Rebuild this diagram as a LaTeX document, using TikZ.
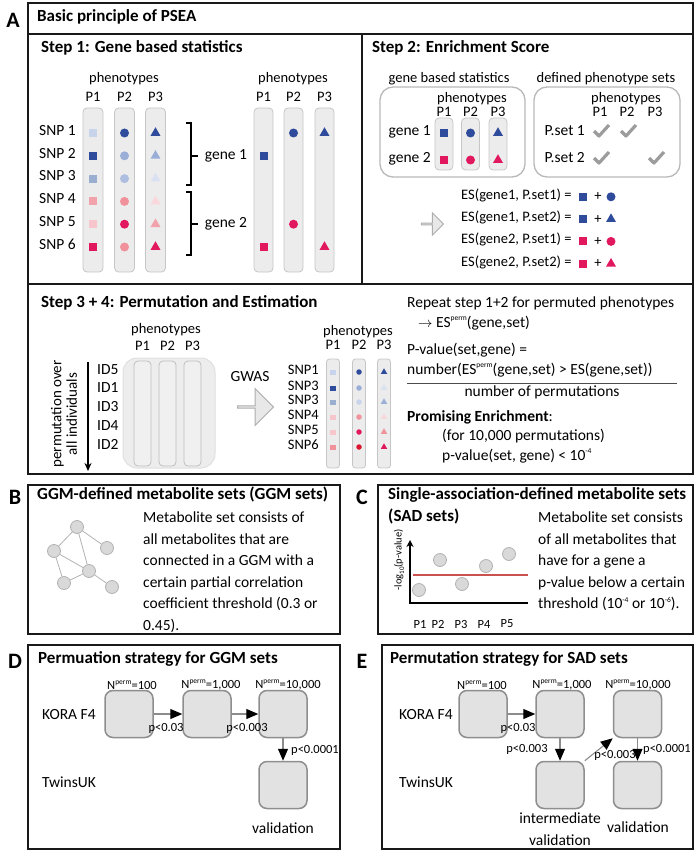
\documentclass[tikz,border=0pt]{standalone}
\usepackage{fontspec}
\setmainfont{Carlito}
\usetikzlibrary{arrows.meta,shapes.geometric,shapes.arrows}
\definecolor{pseaBlueD}{HTML}{2F4B9B}
\definecolor{pseaBlueM}{HTML}{9AAED8}
\definecolor{pseaBlueG}{HTML}{9AAFCF}
\definecolor{pseaBlueL}{HTML}{C8D4EC}
\definecolor{pseaPinkD}{HTML}{E2185F}
\definecolor{pseaPinkM}{HTML}{F0919B}
\definecolor{pseaPinkL}{HTML}{F7C6CC}
\definecolor{pseaRedD}{HTML}{D8162F}
\definecolor{pseaPill}{HTML}{ECECEC}
\definecolor{pseaPillLine}{HTML}{C6C6C6}
\definecolor{pseaStep}{HTML}{E2E2E2}
\definecolor{pseaStepLine}{HTML}{8E8E8E}
\definecolor{pseaCheck}{HTML}{9C9C9C}
\definecolor{pseaThresh}{HTML}{C9514E}
\newcommand\pseaSup[1]{\raisebox{0.42em}{\fontsize{7.5}{8}\selectfont #1}}
\tikzset{
  psea frame/.style={draw=black!90, line width=1.6pt},
  psea panel/.style={draw=black!90, line width=2pt},
  psea pill/.style={draw=pseaPillLine, fill=pseaPill, line width=0.8pt, rounded corners=4pt},
  psea group/.style={draw=black!28, line width=1.3pt, rounded corners=13pt},
  psea letter/.style={font=\fontsize{22}{24}\selectfont\bfseries, inner sep=0pt},
  psea head/.style={font=\fontsize{17}{21}\selectfont\bfseries, inner sep=0pt},
  psea text/.style={font=\fontsize{15.5}{21.5}\selectfont, inner sep=0pt},
  psea small/.style={font=\fontsize{14.5}{16}\selectfont, inner sep=0pt},
  psea tiny/.style={font=\fontsize{12.5}{14}\selectfont, inner sep=0pt},
  psea sq/.style={rectangle, minimum size=8pt, inner sep=0pt},
  psea dot/.style={circle, minimum size=9pt, inner sep=0pt},
  psea tri/.style={regular polygon, regular polygon sides=3, minimum size=11.5pt, inner sep=0pt},
  psea sq s/.style={rectangle, minimum width=6pt, minimum height=5pt, inner sep=0pt},
  psea dot s/.style={circle, minimum size=5.5pt, inner sep=0pt},
  psea tri s/.style={regular polygon, regular polygon sides=3, minimum size=7.5pt, inner sep=0pt},
  psea check/.style={draw=pseaCheck, line width=3.2pt, line join=round},
  psea fat arrow/.style={single arrow, draw=black!32, fill=black!9, line width=1pt, inner sep=0pt},
  psea ball/.style={circle, draw=black!30, fill=black!15, line width=0.8pt, minimum size=13pt, inner sep=0pt},
  psea stepbox/.style={draw=pseaStepLine, fill=pseaStep, line width=1.5pt, rounded corners=8pt, minimum width=48pt, minimum height=47pt, inner sep=0pt},
  psea go/.style={draw=black!45, line width=1.1pt, -{Triangle[length=12pt,width=10pt,color=black]}},
}

\begin{document}
\begin{tikzpicture}[x=1pt,y=-1pt]
  \useasboundingbox (0,0) rectangle (697,853);

  % panel A
  \node[psea letter] (labA) at (13,20) {A};
  \draw[psea frame] (28,3) rectangle (693,474);
  \draw[psea frame] (28,34) -- (693,34);
  \draw[psea frame] (362,34) -- (362,284);
  \draw[psea frame] (28,284) -- (693,284);
  \node[psea head, anchor=mid west] (titleA) at (37,19) {Basic principle of PSEA};

  % step 1
  \node[psea head, anchor=mid west] (step1) at (41,50) {Step 1: Gene based statistics};
  \node[psea small] (phL) at (124,79) {phenotypes};
  \node[psea small] (phR) at (293,79) {phenotypes};
  \foreach \x/\p in {93/1,124.5/2,155.5/3}{
    \node[psea small] (pl\p) at (\x,97) {P\p};
    \draw[psea pill] (\x-10,108) rectangle (\x+10,272);
  }
  \foreach \x/\p in {263.5/1,293.5/2,324.5/3}{
    \node[psea small] (pr\p) at (\x,97) {P\p};
    \draw[psea pill] (\x-9.5,108) rectangle (\x+9.5,272);
  }
  \foreach \r/\a/\b/\c in {1/pseaBlueL/pseaBlueD/pseaBlueD, 2/pseaBlueD/pseaBlueM/pseaBlueM,
      3/pseaBlueG/pseaBlueM!80/pseaBlueL!70, 4/pseaPinkM!85/pseaPinkM/pseaPinkL!70,
      5/pseaPinkL/pseaPinkD/pseaPinkM!85, 6/pseaPinkD/pseaPinkM/pseaPinkD}{
    \node[psea text, anchor=mid west] (snp\r) at (39,{110.2+22.8*\r}) {SNP \r};
    \node[psea sq, fill=\a] (qa\r) at (93,{110.2+22.8*\r}) {};
    \node[psea dot, fill=\b] (qb\r) at (124.5,{110.2+22.8*\r}) {};
    \node[psea tri, fill=\c] (qc\r) at (155.5,{110.2+22.8*\r}) {};
  }
  \draw[line width=1.1pt] (186,123) -- (191,123) -- (191,185) -- (186,185) (191,156) -- (198,156);
  \draw[line width=1.1pt] (186,192) -- (191,192) -- (191,255) -- (186,255) (191,224) -- (198,224);
  \node[psea text] (gene1) at (226,156) {gene 1};
  \node[psea text] (gene2) at (226,224) {gene 2};
  \node[psea dot, fill=pseaBlueD] (rb1) at (293.5,133) {};
  \node[psea tri, fill=pseaBlueD] (rc1) at (324.5,133) {};
  \node[psea sq, fill=pseaBlueD] (ra2) at (263.5,155.8) {};
  \node[psea dot, fill=pseaPinkD] (rb5) at (293.5,224.2) {};
  \node[psea sq, fill=pseaPinkD] (ra6) at (263.5,247) {};
  \node[psea tri, fill=pseaPinkD] (rc6) at (324.5,247) {};

  % step 2
  \node[psea head, anchor=mid west] (step2) at (372,50) {Step 2: Enrichment Score};
  \node[psea small] (gbs) at (449,79) {gene based statistics};
  \node[psea small] (dps) at (606,79) {defined phenotype sets};
  \draw[psea group] (380,87) rectangle (525,177);
  \draw[psea group] (534,87) rectangle (680,177);
  \node[psea small] (phG) at (472,99) {phenotypes};
  \node[psea small] (phS) at (626,99) {phenotypes};
  \foreach \x/\p in {444/1,470.5/2,498/3}{
    \node[psea small] (gp\p) at (\x,112) {P\p};
    \draw[psea pill] (\x-9,118) rectangle (\x+9,170);
  }
  \foreach \x/\p in {600/1,627/2,655/3}
    \node[psea small] (sp\p) at (\x,112) {P\p};
  \node[psea text, anchor=mid east] (g1lab) at (431,133) {gene 1};
  \node[psea text, anchor=mid east] (g2lab) at (431,160) {gene 2};
  \node[psea sq, fill=pseaBlueD] (ga1) at (444,133) {};
  \node[psea dot, fill=pseaBlueD] (gb1) at (470.5,133) {};
  \node[psea tri, fill=pseaBlueD] (gc1) at (498,133) {};
  \node[psea sq, fill=pseaPinkD] (ga2) at (444,160) {};
  \node[psea dot, fill=pseaPinkD] (gb2) at (470.5,160) {};
  \node[psea tri, fill=pseaPinkD] (gc2) at (498,160) {};
  \node[psea text, anchor=mid east] (ps1) at (585,133) {P.set 1};
  \node[psea text, anchor=mid east] (ps2) at (585,160) {P.set 2};
  \foreach \x/\y in {600/132,627/132,600/159,655/159}
    \draw[psea check] (\x,\y) ++(-6,-1) -- ++(5,5) -- ++(10,-11);
  \foreach \i/\txt/\sa/\sb in {1/{ES(gene1, P.set1) =}/pseaBlueD/dot, 2/{ES(gene1, P.set2) =}/pseaBlueD/tri,
      3/{ES(gene2, P.set1) =}/pseaPinkD/dot, 4/{ES(gene2, P.set2) =}/pseaPinkD/tri}{
    \node[psea small, anchor=mid west] (es\i) at (461,{174.5+22.3*\i}) {\txt};
    \node[psea sq, fill=\sa] (esa\i) at (583,{174.5+22.3*\i}) {};
    \node[psea small] (esp\i) at (598,{174.5+22.3*\i}) {+};
    \node[psea \sb, fill=\sa] (esb\i) at (611,{174.5+22.3*\i}) {};
  }
  \node[psea fat arrow, minimum height=22pt, minimum width=22pt, single arrow head extend=5.5pt] (esarrow) at (432,224) {};

  % step 3 + 4
  \node[psea head, anchor=mid west] (step3) at (41,305) {Step 3 + 4: Permutation and Estimation};
  \node[psea small] (phP) at (166,330) {phenotypes};
  \draw[draw=black!12, fill=black!7, line width=1pt, rounded corners=14pt] (123,358) rectangle (215,468);
  \foreach \x/\p in {142.5/1,167.5/2,192.5/3}{
    \node[psea small] (pp\p) at (\x,346) {P\p};
    \draw[draw=black!25, fill=black!6, line width=0.8pt, rounded corners=4pt] (\x-8.5,361) rectangle (\x+8.5,466);
  }
  \foreach \id/\y in {ID5/372,ID1/390,ID3/409,ID4/428,ID2/447}
    \node[psea text, anchor=mid west] (\id) at (97,\y) {\id};
  \coordinate (permtop) at (88,362);
  \coordinate (permbot) at (88,471);
  \draw[line width=1.6pt, -{Stealth[length=8pt,width=7pt]}] (permtop) -- (permbot);
  \node[psea text, font=\fontsize{15}{15.5}\selectfont, rotate=90, align=center] (permlab) at (64,414) {permutation over\\all individuals};
  \node[psea text] (gwas) at (250,377) {GWAS};
  \node[psea fat arrow, minimum height=36pt, minimum width=37pt, single arrow head extend=8.5pt] (gwasarrow) at (255,407) {};
  \node[psea small] (phQ) at (358,332) {phenotypes};
  \foreach \x/\p in {333/1,359/2,384/3}{
    \node[psea small] (pq\p) at (\x,345) {P\p};
    \draw[psea pill, rounded corners=3pt] (\x-6.5,359) rectangle (\x+6.5,468);
  }
  \foreach \r/\s/\y/\a/\b/\c in {1/SNP1/372/pseaBlueL/pseaBlueD/pseaBlueD, 2/SNP3/388/pseaBlueD/pseaBlueM/pseaBlueL!70,
      3/SNP3/402/pseaBlueG/pseaBlueL/pseaBlueM, 4/SNP4/417/pseaPinkL/pseaPinkM/pseaPinkL!70,
      5/SNP5/432/pseaPinkL/pseaPinkD/pseaPinkM, 6/SNP6/447/pseaPinkM/pseaRedD/pseaPinkD}{
    \node[psea text, font=\fontsize{14.5}{15}\selectfont, anchor=mid east] (snq\r) at (319,\y) {\s};
    \node[psea sq s, fill=\a] (sa\r) at (333,\y) {};
    \node[psea dot s, fill=\b] (sb\r) at (359,\y) {};
    \node[psea tri s, fill=\c] (sc\r) at (384,\y) {};
  }
  \node[psea text, anchor=mid west] (rep) at (407,305) {Repeat step 1+2 for permuted phenotypes};
  \node[psea text, anchor=mid west] (esperm) at (418,325) {$\rightarrow$ ES\pseaSup{perm}(gene,set)};
  \node[psea text, anchor=mid west] (pval) at (407,352) {P-value(set,gene) =};
  \node[psea text, anchor=mid west] (numer) at (407,372) {number(ES\pseaSup{perm}(gene,set) > ES(gene,set))};
  \draw[line width=0.8pt, black!70] (407,383) -- (677,383);
  \node[psea text] (denom) at (542,392) {number of permutations};
  \node[psea text, anchor=mid west] (prom) at (407,419) {\textbf{Promising Enrichment}:};
  \node[psea text, anchor=mid west] (for) at (442,438) {(for 10,000 permutations)};
  \node[psea text, anchor=mid west] (thr) at (442,458) {p-value(set, gene) < 10\pseaSup{-4}};

  % panel B
  \node[psea letter] (labB) at (15,497) {B};
  \draw[psea panel] (28,485) rectangle (340,634);
  \node[psea head, anchor=mid west] (headB) at (37,497) {GGM-defined metabolite sets (GGM sets)};
  \node[psea ball] (g1) at (77,527) {};
  \node[psea ball] (g2) at (54,551) {};
  \node[psea ball] (g3) at (107,548) {};
  \node[psea ball] (g4) at (89,571) {};
  \node[psea ball] (g5) at (64,583) {};
  \node[psea ball] (g6) at (112,587) {};
  \draw[draw=black!30, line width=0.8pt] (g1) -- (g2) (g1) -- (g4) (g1) -- (g3) (g2) -- (g4)
    (g2) -- (g5) (g4) -- (g5) (g4) -- (g6);
  \node[psea text, anchor=north west, align=left] (txtB) at (143,512) {Metabolite set consists of\\all metabolites that are\\connected in a GGM with a\\certain partial correlation\\coefficient threshold (0.3 or\\0.45).};

  % panel C
  \node[psea letter] (labC) at (362,497) {C};
  \draw[psea panel] (378,485) rectangle (693,634);
  \node[psea head, anchor=mid west] (headC) at (388,497) {Single-association-defined metabolite sets};
  \node[psea head, anchor=mid west] (headC2) at (388,519) {(SAD sets)};
  \node[psea text, anchor=north west, align=left] (txtC) at (538,512) {Metabolite set consists\\of all metabolites that\\have for a gene a\\p-value below a certain\\threshold (10\pseaSup{-4} or 10\pseaSup{-6}).};
  \coordinate (corner) at (410,603);
  \coordinate (ytop) at (410,540);
  \coordinate (xend) at (528,603);
  \draw[line width=1.6pt, {Stealth[length=7pt,width=7pt]}-] (ytop) -- (corner) -- (xend);
  \node[font=\fontsize{10.5}{11}\selectfont, inner sep=0pt, rotate=90] (ylab) at (399,560) {-log\raisebox{-0.25em}{\fontsize{7}{7}\selectfont 10}(p-value)};
  \coordinate (thrL) at (413,575);
  \coordinate (thrR) at (528,575);
  \draw[pseaThresh, line width=1.6pt] (thrL) -- (thrR);
  \foreach \i/\x/\y/\lx in {1/419/590/420, 2/440/560/438, 3/462/584/461, 4/486/566/484, 5/509/554/507}{
    \node[psea ball] (c\i) at (\x,\y) {};
    \node[psea tiny] (cl\i) at (\lx,624) {P\i};
  }

  % panel D
  \node[psea letter] (labD) at (15,661) {D};
  \draw[psea panel] (28,645) rectangle (340,849);
  \node[psea head, anchor=mid west] (headD) at (38,661) {Permuation strategy for GGM sets};
  \node[psea text, anchor=mid west] (koraD) at (42,717) {KORA F4};
  \node[psea text, anchor=mid west] (twinD) at (42,785) {TwinsUK};
  \node[psea stepbox] (d1) at (129,714) {};
  \node[psea stepbox] (d2) at (207,714) {};
  \node[psea stepbox] (d3) at (283,714) {};
  \node[psea stepbox] (dv) at (283,785) {};
  \node[psea tiny] (nd1) at (132,685) {N\pseaSup{perm}=100};
  \node[psea tiny] (nd2) at (211,685) {N\pseaSup{perm}=1,000};
  \node[psea tiny] (nd3) at (288,685) {N\pseaSup{perm}=10,000};
  \draw[psea go] (d1) -- (d2);
  \draw[psea go] (d2) -- (d3);
  \draw[psea go] (d3) -- (dv);
  \node[psea tiny] (pd1) at (166,728) {p<0.03};
  \node[psea tiny] (pd2) at (247,728) {p<0.003};
  \node[psea tiny] (pd3) at (315,750) {p<0.0001};
  \node[psea text] (valD) at (283,828) {validation};

  % panel E
  \node[psea letter] (labE) at (362,661) {E};
  \draw[psea panel] (382,645) rectangle (693,849);
  \node[psea head, anchor=mid west] (headE) at (390,661) {Permutation strategy for SAD sets};
  \node[psea text, anchor=mid west] (koraE) at (399,717) {KORA F4};
  \node[psea text, anchor=mid west] (twinE) at (399,785) {TwinsUK};
  \node[psea stepbox] (e1) at (483,714) {};
  \node[psea stepbox] (e2) at (560,714) {};
  \node[psea stepbox] (e3) at (637.5,714) {};
  \node[psea stepbox] (ei) at (560,785) {};
  \node[psea stepbox] (ev) at (637.5,785) {};
  \node[psea tiny] (ne1) at (482,685) {N\pseaSup{perm}=100};
  \node[psea tiny] (ne2) at (562,685) {N\pseaSup{perm}=1,000};
  \node[psea tiny] (ne3) at (638,685) {N\pseaSup{perm}=10,000};
  \draw[psea go] (e1) -- (e2);
  \draw[psea go] (e2) -- (ei);
  \draw[psea go] (ei.north east) -- (e3.south west);
  \draw[psea go] (e3) -- (ev);
  \node[psea tiny] (pe1) at (518,728) {p<0.03};
  \node[psea tiny] (pe2) at (527,749) {p<0.003};
  \node[psea tiny] (pe3) at (615,755) {p<0.003};
  \node[psea tiny] (pe4) at (667,749) {p<0.0001};
  \node[psea text, align=center] (valEi) at (560,829) {intermediate\\validation};
  \node[psea text] (valE) at (638,827) {validation};
\end{tikzpicture}
\end{document}
